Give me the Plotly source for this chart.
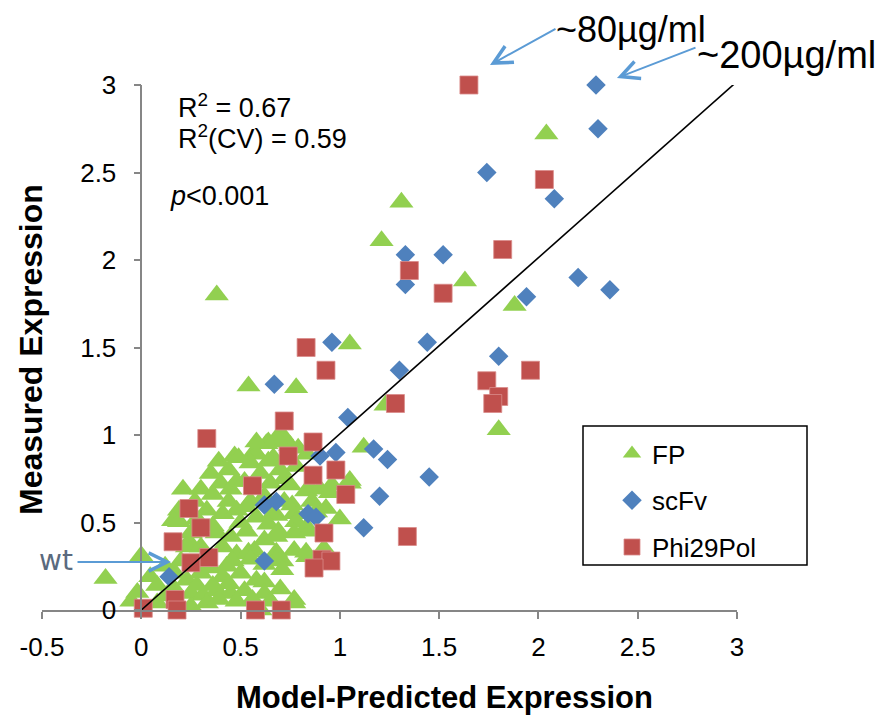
import plotly.graph_objects as go

# ---------------- data ----------------
fp_x = [2.04, 1.31, 1.21, 1.63, 1.88, 0.38, 1.05, 0.54, 0.78, 1.23, 1.80, 1.12,
        1.05, 1.00, -0.18, 0.00, 0.77, -0.05, -0.02,
        0.71, 0.63, 0.75, 0.64, 0.725, 0.79, 0.57,
        0.39, 0.47, 0.58, 0.55, 0.665, 0.64, 0.49, 0.835, 0.78,
        0.21, 0.30, 0.40, 0.36, 0.45, 0.48, 0.52, 0.65, 0.72, 0.75, 0.85, 0.83, 0.90, 0.95, 0.96, 1.05,
        0.19, 0.16, 0.19, 0.33, 0.41, 0.48, 0.53, 0.58, 0.68, 0.66, 0.77, 0.76, 0.64, 0.78, 0.83,
        0.25, 0.38, 0.45, 0.53, 0.62, 0.68, 0.69, 0.77, 0.85, 0.24,
        0.23, 0.30, 0.41, 0.48, 0.57, 0.68, 0.77, 0.835, 0.92, 0.54, 0.83, 0.71,
        0.045, 0.08, 0.16, 0.23, 0.30, 0.35, 0.41, 0.43, 0.50, 0.55, 0.58, 0.68, 0.71, 0.17, 0.62,
        0.25, 0.31, 0.38, 0.45, 0.52, 0.62, 0.25, 0.33, 0.08, 0.77,
        0.27, 0.35, 0.44, 0.60, 0.70, 0.62, 0.55, 0.44, 0.28, 0.36, 0.50, 0.72, 0.88,
        0.33, 0.46, 0.62, 0.39, 0.48, 0.56, 0.12, 0.20, 0.27, 0.12, 0.65, 0.70, 0.86,
        0.93, 0.60, 0.44, 0.36, 0.28, 0.74, 0.58, 0.68]
fp_y = [2.72, 2.33, 2.11, 1.88, 1.74, 1.80, 1.52, 1.28, 1.27, 1.17, 1.03, 0.93,
        0.725, 0.52, 0.18, 0.31, 0.04, 0.05, 0.10,
        1.00, 0.95, 0.94, 0.96, 0.96, 0.925, 0.905,
        0.85, 0.88, 0.89, 0.84, 0.87, 0.85, 0.87, 0.89, 0.82,
        0.69, 0.69, 0.725, 0.66, 0.69, 0.735, 0.735, 0.725, 0.75, 0.715, 0.70, 0.68, 0.69, 0.67, 0.715, 0.74,
        0.57, 0.51, 0.505, 0.57, 0.55, 0.57, 0.59, 0.53, 0.54, 0.545, 0.55, 0.60, 0.49, 0.505, 0.47,
        0.44, 0.44, 0.42, 0.45, 0.40, 0.42, 0.45, 0.44, 0.45, 0.39,
        0.36, 0.36, 0.36, 0.32, 0.34, 0.33, 0.34, 0.305, 0.35, 0.33, 0.33, 0.28,
        0.19, 0.14, 0.13, 0.17, 0.21, 0.24, 0.19, 0.25, 0.21, 0.29, 0.17, 0.29, 0.23, 0.21, 0.16,
        0.095, 0.085, 0.11, 0.095, 0.11, 0.095, 0.02, 0.04, 0.04, 0.06,
        0.62, 0.78, 0.80, 0.78, 0.80, 0.65, 0.62, 0.62, 0.52, 0.48, 0.50, 0.62, 0.56,
        0.28, 0.28, 0.26, 0.06, 0.05, 0.06, 0.08, 0.28, 0.26, 0.25, 0.05, 0.12, 0.62,
        0.58, 0.00, 0.15, 0.14, 0.14, 0.87, 0.96, 0.98]

scfv_x = [2.29, 2.30, 1.74, 2.08, 1.33, 1.52, 1.33, 2.20, 2.36, 1.94, 1.44,
          0.96, 1.80, 1.30, 1.04, 1.17, 1.24, 0.98, 0.90, 1.45, 1.20, 1.12,
          0.84, 0.88, 0.62, 0.68, 0.62, 0.14, 0.67]
scfv_y = [3.00, 2.75, 2.50, 2.35, 2.03, 2.03, 1.86, 1.90, 1.83, 1.79, 1.53,
          1.53, 1.45, 1.37, 1.10, 0.92, 0.86, 0.90, 0.88, 0.76, 0.65, 0.47,
          0.55, 0.53, 0.60, 0.62, 0.28, 0.19, 1.29]

phi_x = [1.65, 2.03, 1.82, 1.35, 1.52, 0.83, 0.93, 1.74, 1.96, 1.80, 1.77, 1.28,
         0.72, 0.33, 0.865, 0.74, 0.865, 0.98, 0.56, 1.03, 0.24, 0.30, 0.92, 0.16,
         0.34, 0.25, 0.91, 0.955, 0.87, 1.34, 0.01, 0.17, 0.18, 0.575, 0.705]
phi_y = [3.00, 2.46, 2.06, 1.94, 1.81, 1.50, 1.37, 1.31, 1.37, 1.22, 1.18, 1.18,
         1.08, 0.98, 0.96, 0.88, 0.77, 0.80, 0.71, 0.66, 0.58, 0.47, 0.44, 0.39,
         0.30, 0.27, 0.29, 0.28, 0.24, 0.42, 0.01, 0.06, 0.00, 0.00, 0.00]

fit_x = [0.0, 3.0]
fit_y = [0.0, 3.02]

x_ticks = [-0.5, 0, 0.5, 1, 1.5, 2, 2.5, 3]
x_tick_labels = ["-0.5", "0", "0.5", "1", "1.5", "2", "2.5", "3"]
y_ticks = [0, 0.5, 1, 1.5, 2, 2.5, 3]
y_tick_labels = ["0", "0.5", "1", "1.5", "2", "2.5", "3"]

GREEN = "#92D050"
BLUE = "#4F81BD"
RED = "#C0504D"
ARROW = "#5B9BD5"
FONT = "Liberation Sans, Arial, sans-serif"

fig = go.Figure()
fig.add_trace(go.Scatter(x=fp_x, y=fp_y, mode="markers", name="FP", legendgroup="a", cliponaxis=False,
                         marker=dict(symbol="triangle-up", size=21, color=GREEN, line=dict(width=0))))
fig.add_trace(go.Scatter(x=scfv_x, y=scfv_y, mode="markers", name="scFv", legendgroup="b", cliponaxis=False,
                         marker=dict(symbol="diamond", size=15, color=BLUE, line=dict(width=0))))
fig.add_trace(go.Scatter(x=phi_x, y=phi_y, mode="markers", name="Phi29Pol", legendgroup="c", cliponaxis=False,
                         marker=dict(symbol="square", size=18, color=RED,
                                     line=dict(width=0.8, color="#D98C8A"))))
fig.add_trace(go.Scatter(x=fit_x, y=fit_y, mode="lines", showlegend=False,
                         line=dict(color="black", width=1.6), cliponaxis=False))

OFF = 8  # page body margin added by the html wrapper
W, H = 894 - OFF, 717 - OFF
L, T = 42 - OFF, 85 - OFF
PR, PB = 737 - OFF, 610 - OFF   # plot right / bottom in figure pixels
R, B = W - PR, H - PB
pw, ph = PR - L, PB - T

def px(xp):
    return (xp - OFF - L) / pw

def py(yp):
    return (PB - (yp - OFF)) / ph

annos = [
    dict(text="R<sup>2</sup> = 0.67", x=px(176), y=py(106), xanchor="left", yanchor="middle",
         font=dict(size=27)),
    dict(text="R<sup>2</sup>(CV) = 0.59", x=px(176), y=py(137), xanchor="left", yanchor="middle",
         font=dict(size=27)),
    dict(text="<i>p</i><0.001", x=px(168), y=py(196), xanchor="left", yanchor="middle",
         font=dict(size=27)),
    dict(text="~80µg/ml", x=px(554), y=py(7), xanchor="left", yanchor="top",
         font=dict(size=36)),
    dict(text="~200µg/ml", x=px(695), y=py(55), xanchor="left", yanchor="middle",
         font=dict(size=38)),
    dict(text="wt", x=px(37), y=py(560), xanchor="left", yanchor="middle",
         font=dict(size=28, color="#5A6A7E", family="DejaVu Sans, sans-serif")),
    dict(text="<b>Model-Predicted Expression</b>", x=px(444), y=py(697), xanchor="center",
         yanchor="middle", font=dict(size=31)),
    dict(text="<b>Measured Expression</b>", x=px(31), y=py(350), xanchor="center",
         yanchor="middle", textangle=-90, font=dict(size=32)),
]
for a in annos:
    a.update(xref="paper", yref="paper", showarrow=False)

arrows = [
    (490, 65, 67, -37),
    (617, 78, 80, -31),
    (171, 562, -95, 0),
]
for hx, hy, axo, ayo in arrows:
    annos.append(dict(text="", x=px(hx), y=py(hy), xref="paper", yref="paper",
                      showarrow=True, ax=axo, ay=ayo, arrowcolor=ARROW, arrowwidth=2,
                      arrowhead=5, arrowsize=1.8, standoff=0, startstandoff=0))

fig.update_layout(
    width=W, height=H,
    margin=dict(l=L, r=R, t=T, b=B, autoexpand=False),
    paper_bgcolor="white", plot_bgcolor="white",
    font=dict(family=FONT, color="black", size=25),
    showlegend=True,
    legend=dict(x=px(612), y=py(430), xanchor="left", yanchor="top",
                bgcolor="rgba(0,0,0,0)", borderwidth=0, tracegroupgap=10,
                font=dict(size=26), itemwidth=30),
    xaxis=dict(range=[-0.5, 3], tickvals=x_ticks, ticktext=x_tick_labels, automargin=False,
               showgrid=False, zeroline=False, showline=True, linecolor="#868686",
               linewidth=1.5, ticks="outside", ticklen=7, tickwidth=1.5, tickcolor="#868686",
               tickfont=dict(size=26), ticklabelstandoff=6),
    yaxis=dict(range=[0, 3], tickvals=y_ticks, ticktext=y_tick_labels, automargin=False,
               anchor="free", position=0.5 / 3.5,
               showgrid=False, zeroline=False, showline=True, linecolor="#868686",
               linewidth=1.5, ticks="outside", ticklen=7, tickwidth=1.5, tickcolor="#868686",
               tickfont=dict(size=26), ticklabelstandoff=12),
    annotations=annos,
    shapes=[dict(type="rect", xref="paper", yref="paper",
                 x0=px(583), x1=px(807), y0=py(565), y1=py(426),
                 line=dict(color="black", width=1.5), fillcolor="rgba(0,0,0,0)", layer="above")],
)

fig.write_html("out.html")
